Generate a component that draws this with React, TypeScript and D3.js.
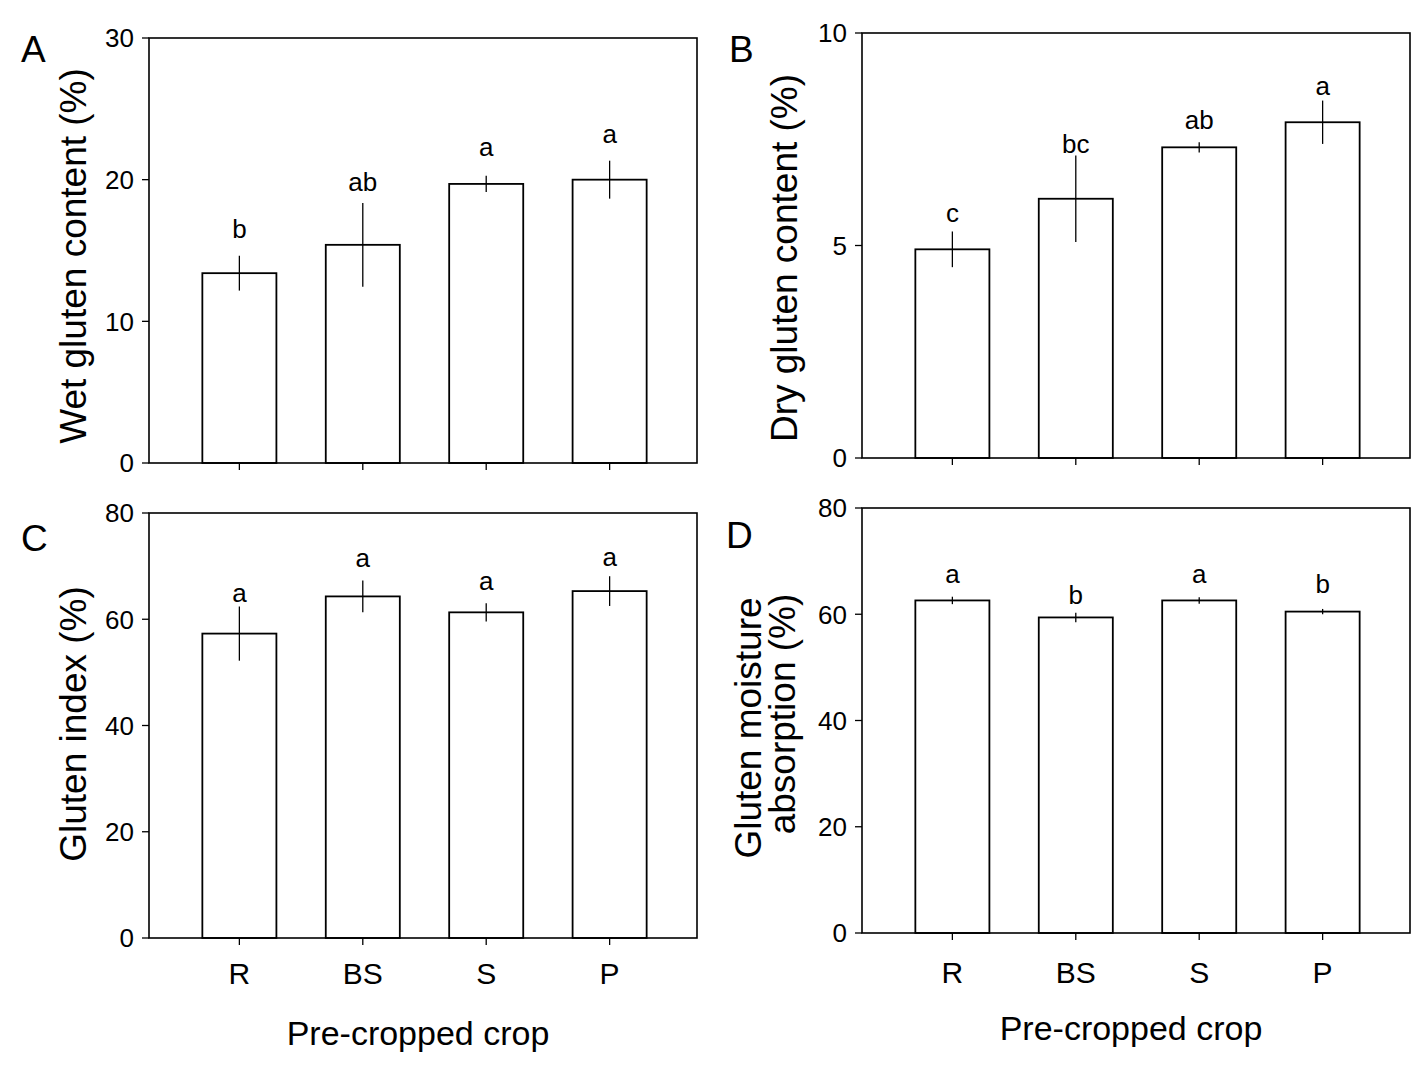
import React from 'react';
import * as d3 from 'd3';

// pre-cropped crops
const categories = ['R', 'BS', 'S', 'P'];

// A: wet gluten content (%)
const wetGluten = [13.4, 15.4, 19.7, 20.0];
const wetGlutenErr = [1.23, 2.96, 0.57, 1.34];
const wetLetters = ['b', 'ab', 'a', 'a'];
const wetLetterY = [15.9, 19.2, 21.7, 22.6];
const wetTicks = [0, 10, 20, 30];

// B: dry gluten content (%)
const dryGluten = [4.91, 6.1, 7.31, 7.9];
const dryGlutenErr = [0.42, 1.02, 0.12, 0.51];
const dryLetters = ['c', 'bc', 'ab', 'a'];
const dryLetterY = [5.56, 7.17, 7.74, 8.55];
const dryTicks = [0, 5, 10];

// C: gluten index (%)
const glutenIndex = [57.3, 64.3, 61.3, 65.3];
const glutenIndexErr = [5.1, 3.0, 1.7, 2.8];
const indexLetters = ['a', 'a', 'a', 'a'];
const indexLetterY = [63.2, 69.8, 65.5, 70.0];
const indexTicks = [0, 20, 40, 60, 80];

// D: gluten moisture absorption (%)
const moisture = [62.6, 59.4, 62.6, 60.5];
const moistureErr = [0.7, 0.9, 0.6, 0.5];
const moistureLetters = ['a', 'b', 'a', 'b'];
const moistureLetterY = [65.9, 62.0, 65.9, 64.0];
const moistureTicks = [0, 20, 40, 60, 80];

const FONT = 'Liberation Sans, Arial, Helvetica, sans-serif';

interface PanelProps {
  tag: string;
  tagX: number;
  tagY: number;
  left: number;
  top: number;
  width: number;
  height: number;
  max: number;
  ticks: number[];
  values: number[];
  errs: number[];
  letters: string[];
  letterY: number[];
  title: { text: string; x: number; y: number }[];
  showCats?: boolean;
  catY?: number;
  xTitleY?: number;
}

function Panel(p: PanelProps) {
  const x = d3
    .scaleBand<string>()
    .domain(categories)
    .range([p.left + 3, p.left + p.width])
    .paddingInner(0.4)
    .paddingOuter(0.408);
  const y = d3.scaleLinear().domain([0, p.max]).range([p.top + p.height, p.top]);
  const bw = x.bandwidth();
  const bottom = p.top + p.height;

  return (
    <g fontFamily={FONT} fill="#000">
      <text x={p.tagX} y={p.tagY} fontSize={37}>
        {p.tag}
      </text>

      {/* bars */}
      {categories.map((c, i) => (
        <rect
          key={'b' + c}
          x={x(c)!}
          y={y(p.values[i])}
          width={bw}
          height={bottom - y(p.values[i])}
          fill="#fff"
          stroke="#000"
          strokeWidth={1.8}
        />
      ))}

      {/* error bars */}
      {categories.map((c, i) => (
        <line
          key={'e' + c}
          x1={x(c)! + bw / 2}
          x2={x(c)! + bw / 2}
          y1={y(p.values[i] + p.errs[i])}
          y2={y(p.values[i] - p.errs[i])}
          stroke="#000"
          strokeWidth={1.3}
        />
      ))}

      {/* significance letters */}
      {categories.map((c, i) => (
        <text key={'l' + c} x={x(c)! + bw / 2} y={y(p.letterY[i])} fontSize={26} textAnchor="middle">
          {p.letters[i]}
        </text>
      ))}

      {/* frame */}
      <rect x={p.left} y={p.top} width={p.width} height={p.height} fill="none" stroke="#000" strokeWidth={1.6} />

      {/* y ticks */}
      {p.ticks.map((t) => (
        <g key={'t' + t}>
          <line x1={p.left - 7} x2={p.left} y1={y(t)} y2={y(t)} stroke="#000" strokeWidth={1.3} />
          <text x={p.left - 15} y={y(t)} dy="0.36em" fontSize={26} textAnchor="end">
            {t}
          </text>
        </g>
      ))}

      {/* x ticks */}
      {categories.map((c) => (
        <line
          key={'x' + c}
          x1={x(c)! + bw / 2}
          x2={x(c)! + bw / 2}
          y1={bottom}
          y2={bottom + 7}
          stroke="#000"
          strokeWidth={1.3}
        />
      ))}

      {p.showCats &&
        categories.map((c) => (
          <text key={'c' + c} x={x(c)! + bw / 2} y={p.catY} fontSize={30} textAnchor="middle">
            {c}
          </text>
        ))}

      {p.showCats && (
        <text x={p.left + p.width / 2 - 5} y={p.xTitleY} fontSize={34} textAnchor="middle">
          Pre-cropped crop
        </text>
      )}

      {p.title.map((t) => (
        <text
          key={t.text}
          transform={`translate(${t.x},${t.y}) rotate(-90)`}
          fontSize={37}
          textAnchor="middle"
        >
          {t.text}
        </text>
      ))}
    </g>
  );
}

export default function App() {
  return (
    <svg
      width={1422}
      height={1077}
      style={{ display: 'block', position: 'absolute', left: 0, top: 0, background: '#fff' }}
    >
      <rect width={1422} height={1077} fill="#fff" />
      <Panel
        tag="A"
        tagX={21}
        tagY={62}
        left={149}
        top={38}
        width={548}
        height={425}
        max={30}
        ticks={wetTicks}
        values={wetGluten}
        errs={wetGlutenErr}
        letters={wetLetters}
        letterY={wetLetterY}
        title={[{ text: 'Wet gluten content (%)', x: 86, y: 256 }]}
      />
      <Panel
        tag="B"
        tagX={729}
        tagY={62}
        left={862}
        top={33}
        width={548}
        height={425}
        max={10}
        ticks={dryTicks}
        values={dryGluten}
        errs={dryGlutenErr}
        letters={dryLetters}
        letterY={dryLetterY}
        title={[{ text: 'Dry gluten content (%)', x: 797, y: 258 }]}
      />
      <Panel
        tag="C"
        tagX={21}
        tagY={551}
        left={149}
        top={513}
        width={548}
        height={425}
        max={80}
        ticks={indexTicks}
        values={glutenIndex}
        errs={glutenIndexErr}
        letters={indexLetters}
        letterY={indexLetterY}
        title={[{ text: 'Gluten index (%)', x: 86, y: 724 }]}
        showCats
        catY={984}
        xTitleY={1045}
      />
      <Panel
        tag="D"
        tagX={726}
        tagY={548}
        left={862}
        top={508}
        width={548}
        height={425}
        max={80}
        ticks={moistureTicks}
        values={moisture}
        errs={moistureErr}
        letters={moistureLetters}
        letterY={moistureLetterY}
        title={[
          { text: 'Gluten moisture', x: 761, y: 728 },
          { text: 'absorption (%)', x: 795, y: 714 },
        ]}
        showCats
        catY={983}
        xTitleY={1040}
      />
    </svg>
  );
}
